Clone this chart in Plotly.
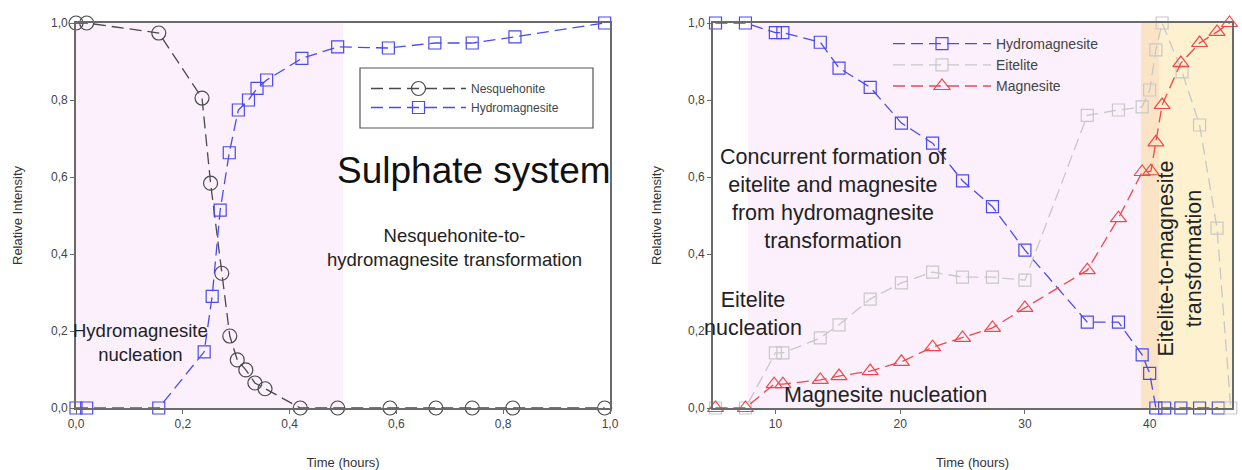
import plotly.graph_objects as go

# ---------------- data ----------------
# Left panel (Sulphate system)
nesq_x = [0, 0.02, 0.155, 0.236, 0.252, 0.273, 0.288, 0.302, 0.318, 0.335, 0.354, 0.42, 0.49, 0.588, 0.674, 0.742, 0.818, 0.99]
nesq_y = [1.0, 1.0, 0.974, 0.805, 0.584, 0.35, 0.187, 0.125, 0.099, 0.065, 0.05, 0, 0, 0, 0, 0, 0, 0]
hydroL_x = [0, 0.02, 0.155, 0.24, 0.255, 0.27, 0.287, 0.304, 0.323, 0.339, 0.357, 0.423, 0.49, 0.585, 0.672, 0.742, 0.822, 0.99]
hydroL_y = [0, 0, 0, 0.146, 0.29, 0.514, 0.663, 0.774, 0.80, 0.83, 0.852, 0.908, 0.938, 0.935, 0.948, 0.948, 0.964, 1.0]

# Right panel
hydroR_x = [5.2, 7.6, 10.0, 10.6, 13.6, 15.1, 17.6, 20.1, 22.6, 25.0, 27.4, 30.0, 35.0, 37.5, 39.4, 40.0, 40.5, 41.2, 42.5, 44.0, 45.5]
hydroR_y = [1.0, 1.0, 0.975, 0.975, 0.95, 0.883, 0.833, 0.74, 0.688, 0.59, 0.523, 0.41, 0.223, 0.223, 0.138, 0.09, 0.0, 0.0, 0.0, 0.0, 0.0]
eit_x = [5.2, 7.6, 10.0, 10.6, 13.6, 15.1, 17.6, 20.1, 22.6, 25.0, 27.4, 30.0, 35.0, 37.5, 39.4, 40.0, 40.5, 41.0, 42.6, 44.0, 45.4, 46.5]
eit_y = [0, 0, 0.143, 0.143, 0.182, 0.216, 0.283, 0.325, 0.353, 0.34, 0.34, 0.332, 0.76, 0.774, 0.782, 0.826, 0.93, 1.0, 0.873, 0.735, 0.467, 0.0]
mag_x = [5.2, 7.6, 9.9, 10.6, 13.6, 15.1, 17.6, 20.1, 22.6, 25.0, 27.4, 30.0, 35.0, 37.5, 39.4, 40.1, 40.5, 41.0, 42.5, 44.0, 45.4, 46.4]
mag_y = [0, 0, 0.062, 0.062, 0.073, 0.083, 0.096, 0.12, 0.158, 0.182, 0.208, 0.26, 0.358, 0.493, 0.613, 0.615, 0.69, 0.787, 0.896, 0.948, 0.977, 1.0]

left_ticks_x = [0, 0.2, 0.4, 0.6, 0.8, 1.0]
right_ticks_x = [10, 20, 30, 40]
ticks_y = [0, 0.2, 0.4, 0.6, 0.8, 1.0]

# ---------------- figure ----------------
W, H = 1242, 470
MT, MB = 23, 62
PH = H - MT - MB
FONT = "Liberation Sans, Arial, sans-serif"
BLUE = "#4a4af0"
DARK = "#4a4a4a"
GREY = "#c8c8c8"
RED = "#f04848"
DASH = "12px,6px"

fig = go.Figure()

def add(x, y, name, color, symbol, size, xa, ya, legend):
    fig.add_trace(go.Scatter(
        x=x, y=y, name=name, mode="lines+markers",
        line=dict(color=color, width=1.3, dash=DASH),
        marker=dict(symbol=symbol, size=size, color=color, line=dict(width=1.2, color=color)),
        xaxis=xa, yaxis=ya, legend=legend, cliponaxis=False))

add(nesq_x, nesq_y, "Nesquehonite", DARK, "circle-open", 14, "x", "y", "legend")
add(hydroL_x, hydroL_y, "Hydromagnesite", BLUE, "square-open", 12, "x", "y", "legend")
add(hydroR_x, hydroR_y, "Hydromagnesite", BLUE, "square-open", 12, "x2", "y2", "legend2")
add(eit_x, eit_y, "Eitelite", GREY, "square-open", 12, "x2", "y2", "legend2")
add(mag_x, mag_y, "Magnesite", RED, "triangle-up-open", 14, "x2", "y2", "legend2")

axis_common = dict(showline=True, linecolor="#6a6a6a", linewidth=1.6, mirror=True,
                   ticks="outside", ticklen=4, tickcolor="#6a6a6a", showgrid=False,
                   zeroline=False, automargin=False,
                   tickfont=dict(size=12, color="#444", family=FONT))
title_font = dict(size=13, color="#333", family=FONT)

fig.update_layout(
    width=W, height=H,
    margin=dict(l=0, r=0, t=MT, b=MB),
    paper_bgcolor="white", plot_bgcolor="white",
    separators=",.",
    font=dict(family=FONT, color="#222"),
    xaxis=dict(domain=[76 / W, 610 / W], range=[0, 1.0], tickvals=left_ticks_x, tickformat=".1f",
               title=dict(text="Time (hours)", font=title_font, standoff=28), anchor="y", **axis_common),
    yaxis=dict(domain=[0, 1], range=[0, 1.0], tickvals=ticks_y, tickformat=".1f",
               title=dict(text="Relative Intensity", font=title_font, standoff=26), anchor="x", **axis_common),
    xaxis2=dict(domain=[713 / W, 1232 / W], range=[5, 46.6], tickvals=right_ticks_x, tickformat="d",
                title=dict(text="Time (hours)", font=title_font, standoff=28), anchor="y2", **axis_common),
    yaxis2=dict(domain=[0, 1], range=[0, 1.0], tickvals=ticks_y, tickformat=".1f",
                title=dict(text="Relative Intensity", font=title_font, standoff=24), anchor="x2", **axis_common),
    legend=dict(x=366 / W, y=(PH - (74 - MT)) / PH, xanchor="left", yanchor="top",
                bgcolor="rgba(0,0,0,0)", borderwidth=0, font=dict(size=12, color="#444", family=FONT),
                tracegroupgap=0, itemwidth=95),
    legend2=dict(x=888 / W, y=(PH - (28 - MT)) / PH, xanchor="left", yanchor="top",
                 bgcolor="rgba(0,0,0,0)", borderwidth=0, font=dict(size=14, color="#444", family=FONT),
                 tracegroupgap=0, itemwidth=98),
    showlegend=True,
)

# Background regions
shapes = [
    dict(type="rect", xref="x", yref="y domain", x0=0, x1=0.5, y0=0, y1=1,
         fillcolor="#fcf0fc", line=dict(width=0), layer="below"),
    dict(type="rect", xref="x2", yref="y2 domain", x0=7.8, x1=39.3, y0=0, y1=1,
         fillcolor="#fcf0fc", line=dict(width=0), layer="below"),
    dict(type="rect", xref="x2", yref="y2 domain", x0=39.3, x1=40.8, y0=0, y1=1,
         fillcolor="#fbe4c6", line=dict(width=0), layer="below"),
    dict(type="rect", xref="x2", yref="y2 domain", x0=40.8, x1=46.6, y0=0, y1=1,
         fillcolor="#fdf1d0", line=dict(width=0), layer="below"),
    # left legend border
    dict(type="rect", xref="paper", yref="paper",
         x0=360 / W, x1=593 / W,
         y0=(PH - (128 - MT)) / PH, y1=(PH - (68 - MT)) / PH,
         line=dict(color="#555", width=1.2), fillcolor="rgba(0,0,0,0)", layer="above"),
]
fig.update_layout(shapes=shapes)

ann_font_l = dict(family=FONT, size=18.5, color="#222")
ann_font_r = dict(family=FONT, size=21.5, color="#222")
annotations = [
    dict(xref="x", yref="y", x=0.745, y=0.618, text="Sulphate system", showarrow=False,
         font=dict(family=FONT, size=37, color="#111")),
    dict(xref="x", yref="y", x=0.708, y=0.416, text="Nesquehonite-to-<br>hydromagnesite transformation",
         showarrow=False, font=ann_font_l),
    dict(xref="x", yref="y", x=0.12, y=0.17, text="Hydromagnesite<br>nucleation", showarrow=False, font=ann_font_l),
    dict(xref="x2", yref="y2", x=14.6, y=0.543,
         text="Concurrent formation of<br>eitelite and magnesite<br>from hydromagnesite<br>transformation",
         showarrow=False, font=ann_font_r),
    dict(xref="x2", yref="y2", x=8.2, y=0.244, text="Eitelite<br>nucleation", showarrow=False, font=ann_font_r),
    dict(xref="x2", yref="y2", x=18.8, y=0.034, text="Magnesite nucleation", showarrow=False, font=ann_font_r),
    dict(xref="x2", yref="y2", x=42.4, y=0.387, text="Eitelite-to-magnesite<br>transformation",
         showarrow=False, textangle=-90, font=ann_font_r),
]
fig.update_layout(annotations=annotations)

fig.write_html("out.html")
